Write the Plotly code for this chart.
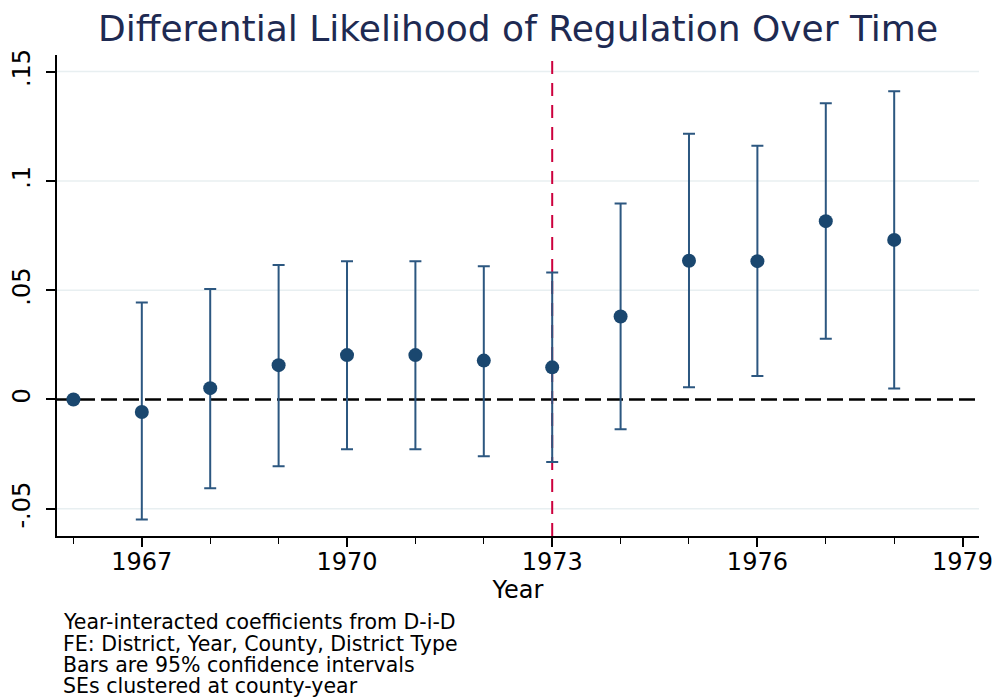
import plotly.graph_objects as go

years = [1966, 1967, 1968, 1969, 1970, 1971, 1972, 1973, 1974, 1975, 1976, 1977, 1978]
coef = [0.0, -0.0057, 0.0052, 0.0157, 0.0203, 0.0203, 0.0178, 0.0147, 0.0380, 0.0635, 0.0633, 0.0816, 0.0730]
ci_hi = [0.0, 0.0444, 0.0505, 0.0615, 0.0633, 0.0633, 0.0610, 0.0581, 0.0897, 0.1216, 0.1161, 0.1355, 0.1410]
ci_lo = [0.0, -0.0549, -0.0406, -0.0305, -0.0228, -0.0228, -0.0260, -0.0286, -0.0136, 0.0056, 0.0107, 0.0278, 0.0050]
x_ticks = [1967, 1970, 1973, 1976, 1979]
y_ticks = [-0.05, 0, 0.05, 0.1, 0.15]
y_tick_labels = ["-.05", "0", ".05", ".1", ".15"]
treat_year = 1973
notes = ["Year-interacted coefficients from D-i-D",
         "FE: District, Year, County, District Type",
         "Bars are 95% confidence intervals",
         "SEs clustered at county-year"]

FONT = "DejaVu Sans"
NAVY = "#1a476f"
BAR = "#2c5780"
GRID = "#e8eff1"

fig = go.Figure()

# gridlines (as shapes so the zero reference line can sit on top of them)
for yv in y_ticks:
    if yv != 0:
        fig.add_shape(type="line", xref="paper", yref="y", x0=0, x1=1, y0=yv, y1=yv,
                      line=dict(color=GRID, width=1.5), layer="below")

fig.add_shape(type="line", xref="paper", yref="y", x0=0, x1=1, y0=0, y1=0,
              line=dict(color="black", width=2.5, dash="16px,6px"), layer="below")
fig.add_shape(type="line", xref="x", yref="paper", x0=treat_year, x1=treat_year, y0=0, y1=1,
              line=dict(color="#cc003d", width=2, dash="13px,9px"), layer="below")

fig.add_trace(go.Scatter(
    x=years, y=coef, mode="markers",
    marker=dict(size=14, color=NAVY),
    error_y=dict(type="data", symmetric=False,
                 array=[h - c for h, c in zip(ci_hi, coef)],
                 arrayminus=[c - l for c, l in zip(coef, ci_lo)],
                 color=BAR, thickness=2, width=6),
    showlegend=False, hoverinfo="skip",
))

top_px, bot_px = 55, 535.7
for i, t in enumerate(notes):
    ypix = 622 + i * 21.3
    fig.add_annotation(text=t, xref="paper", yref="paper",
                       x=(61 - 57) / 922, y=(bot_px - ypix) / (bot_px - top_px),
                       xanchor="left", yanchor="middle", showarrow=False,
                       font=dict(family=FONT, size=20.5, color="black"))

fig.update_layout(
    width=1000, height=699,
    margin=dict(l=57, r=21, t=55, b=163.3, pad=0, autoexpand=False),
    paper_bgcolor="white", plot_bgcolor="white",
    title=dict(text="Differential Likelihood of Regulation Over Time",
               x=(57 + 979) / 2 / 1000, xanchor="center", y=1 - 28 / 699, yanchor="middle",
               font=dict(family=FONT, size=36, color="#1e2a52")),
    font=dict(family=FONT, color="black"),
    xaxis=dict(range=[1965.76, 1979.24], tickvals=x_ticks, ticktext=[str(v) for v in x_ticks],
               automargin=False,
               showgrid=False, zeroline=False, showline=True, linecolor="black", linewidth=1.5,
               ticks="outside", ticklen=9, tickwidth=1.5, tickcolor="black",
               tickfont=dict(family=FONT, size=24), ticklabelstandoff=-6,
               minor=dict(dtick=1, tick0=1966, ticks="outside", ticklen=6, tickwidth=1, tickcolor="black", showgrid=False),
               title=dict(text="Year", font=dict(family=FONT, size=24), standoff=2)),
    yaxis=dict(range=[-0.06245, 0.1576], tickvals=y_ticks, ticktext=y_tick_labels, tickangle=-90,
               automargin=False,
               showgrid=False, zeroline=False,
               showline=True, linecolor="black", linewidth=1.5,
               ticks="outside", ticklen=9, tickwidth=1.5, tickcolor="black",
               tickfont=dict(family=FONT, size=24), ticklabelstandoff=7),
)

fig.write_html("out.html", config={"displayModeBar": False},
               post_script="document.body.style.margin='0';")
